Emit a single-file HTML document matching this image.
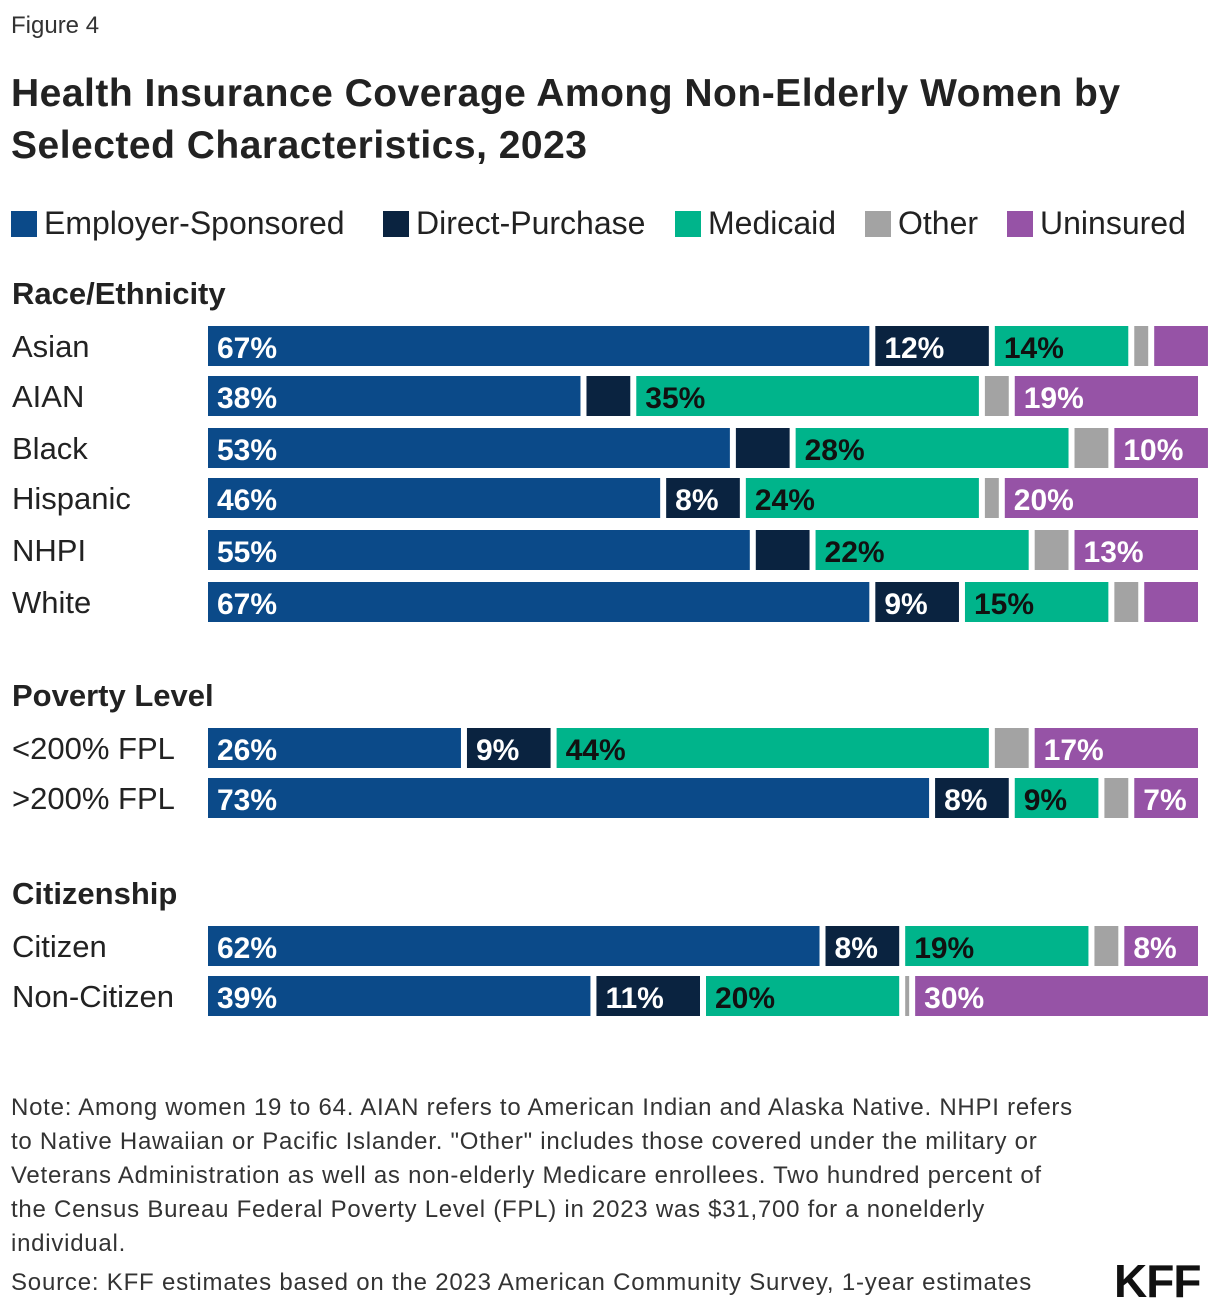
<!DOCTYPE html>
<html><head><meta charset="utf-8"><style>
body{margin:0;background:#fff;font-family:"Liberation Sans",sans-serif;color:#222;}
#wrap{position:relative;width:1220px;height:1312px;overflow:hidden;}
.t{position:absolute;white-space:nowrap;}
</style></head><body>
<div id="wrap">
<div class="t" style="left:11px;top:12px;font-size:24px;color:#333;">Figure 4</div>
<div class="t" style="left:11px;top:68px;font-size:39px;font-weight:bold;line-height:52px;color:#222;letter-spacing:0.5px;">Health Insurance Coverage Among Non-Elderly Women by<br>Selected Characteristics, 2023</div>
<div id="legend"></div>
<svg id="chart" width="1220" height="1312" style="position:absolute;left:0;top:0;"></svg>
<div class="t" style="left:11px;top:1091px;font-size:24px;line-height:34px;color:#333;letter-spacing:0.75px;">Note: Among women 19 to 64. AIAN refers to American Indian and Alaska Native. NHPI refers<br>to Native Hawaiian or Pacific Islander. "Other" includes those covered under the military or<br>Veterans Administration as well as non-elderly Medicare enrollees. Two hundred percent of<br>the Census Bureau Federal Poverty Level (FPL) in 2023 was $31,700 for a nonelderly<br>individual.</div>
<div class="t" style="left:11px;top:1269px;font-size:24px;color:#333;letter-spacing:0.8px;">Source: KFF estimates based on the 2023 American Community Survey, 1-year estimates</div>
<div class="t" style="left:1114px;top:1254px;font-size:46px;font-weight:bold;color:#111;letter-spacing:-1px;">KFF</div>
</div>
<script>
const seriesNames=["Employer-Sponsored","Direct-Purchase","Medicaid","Other","Uninsured"];
const colors=["#0b4a89","#0a2340","#00b48b","#a3a3a3","#9653a6"];
const categories=["Asian","AIAN","Black","Hispanic","NHPI","White","<200% FPL",">200% FPL","Citizen","Non-Citizen"];
const employer=[67,38,53,46,55,67,26,73,62,39];
const directPurchase=[12,5,6,8,6,9,9,8,8,11];
const medicaid=[14,35,28,24,22,15,44,9,19,20];
const other=[2,3,4,2,4,3,4,3,3,1];
const uninsured=[6,19,10,20,13,6,17,7,8,30];
const groups=["Race/Ethnicity","Poverty Level","Citizenship"];
const series=[employer,directPurchase,medicaid,other,uninsured];
const rowY=[326,376,428,478,530,582,728,778,926,976];
const groupY=[272,674,872];
const x0=208,scale=9.96,gap=6,bh=40;
const svg=document.getElementById('chart');
const NS='http://www.w3.org/2000/svg';
function xs(v){return v*scale;}
groups.forEach((g,i)=>{
 const t=document.createElementNS(NS,'text');
 
 
 t.setAttribute('x',12);t.setAttribute('y',groupY[i]+32);
 t.setAttribute('font-size','31');t.setAttribute('font-weight','bold');t.setAttribute('fill','#222');
 t.textContent=g;svg.appendChild(t);
});
categories.forEach((c,i)=>{
 const y=rowY[i];
 const t=document.createElementNS(NS,'text');
 
 
 t.setAttribute('x',12);t.setAttribute('y',y+31);
 t.setAttribute('font-size','31');t.setAttribute('fill','#222');
 t.textContent=c;svg.appendChild(t);
 let acc=0;
 series.forEach((s,k)=>{
  const v=s[i];
  const x=x0+xs(acc);const w=Math.max(xs(v)-gap,2);
  const r=document.createElementNS(NS,'rect');
  
  
  r.setAttribute('x',x);r.setAttribute('y',y);r.setAttribute('width',w);r.setAttribute('height',bh);
  r.setAttribute('fill',colors[k]);svg.appendChild(r);
  if(k!==3&&v>=7){
   const l=document.createElementNS(NS,'text');
   
   
   l.setAttribute('x',x+9);l.setAttribute('y',y+32);
   l.setAttribute('font-size','30');l.setAttribute('font-weight','bold');
   l.setAttribute('fill',k===2?'#111':'#fff');
   l.textContent=v+'%';svg.appendChild(l);
  }
  acc+=v;
 });
});
const lg=document.getElementById('legend');
let lx=11;
const lw=[372,292,190,142,200];
seriesNames.forEach((n,k)=>{
 const e=document.createElement('div');
 
 
 e.className='t';e.style.left=lx+'px';e.style.top='205px';e.style.fontSize='32px';
 e.innerHTML='<span style="display:inline-block;width:26px;height:26px;background:'+colors[k]+';vertical-align:-3px;margin-right:7px"></span>'+n;
 lg.appendChild(e);lx+=lw[k];
});
</script>
</body></html>
